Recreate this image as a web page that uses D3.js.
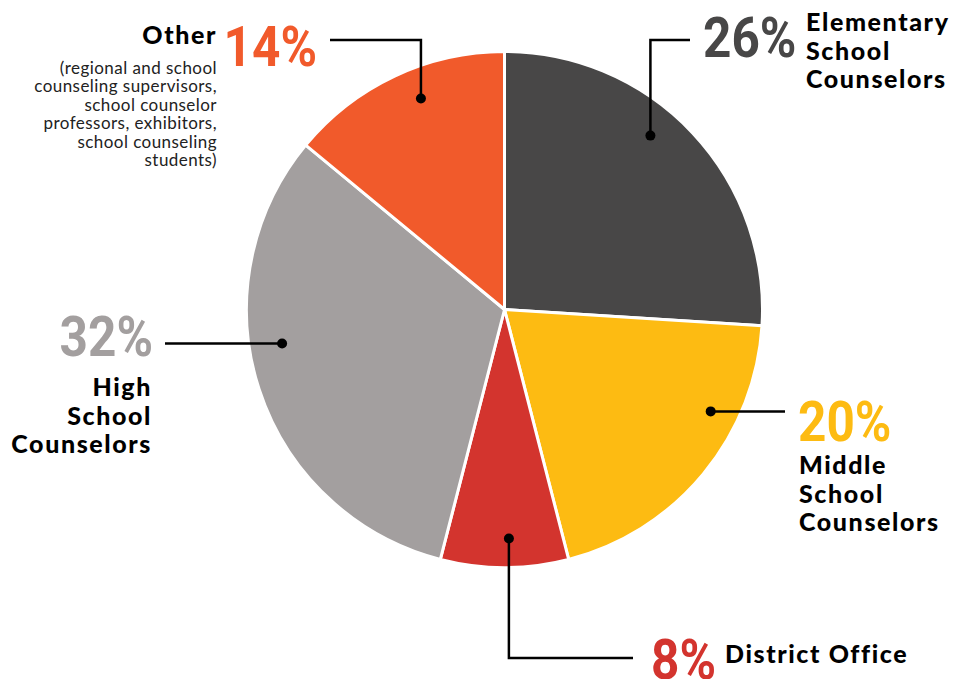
<!DOCTYPE html>
<html><head><meta charset="utf-8">
<script src="https://cdn.jsdelivr.net/npm/d3@7"></script>
<style>
body{margin:0;background:#fff;}
svg{display:block;}
</style></head>
<body><svg id="c" width="956" height="679"></svg>
<script>
const categories = ["Elementary School Counselors","Middle School Counselors","District Office","High School Counselors","Other"];
const values = [26,20,8,32,14];
const colors = ["#484747","#FDBB12","#D3342E","#A39F9F","#F15A2B"];
const pctLabels = ["26%","20%","8%","32%","14%"];
const nameLines = [["Elementary","School","Counselors"],["Middle","School","Counselors"],["District Office"],["High","School","Counselors"],["Other"]];
const otherNote = ["(regional and school","counseling supervisors,","school counselor","professors, exhibitors,","school counseling","students)"];

const W=956,H=679, cx=504.5, cy=309.5, R=258;
const svg=d3.select("#c");
const g=svg.append("g").attr("transform",`translate(${cx},${cy})`);
const pie=d3.pie().sort(null).value(d=>d);
const arcs=pie(values);
const arc=d3.arc().innerRadius(0).outerRadius(R);
g.selectAll("path").data(arcs).join("path")
 .attr("d",arc).attr("fill",(d,i)=>colors[i]).attr("stroke","#fff").attr("stroke-width",3).attr("stroke-linejoin","round");

// layout for leaders/labels (positions only)
const layout=[
 {dotA:40, dotR:227, path:(p)=>[[p[0],p[1]],[p[0],40],[690,40]], pct:{x:703,y:57,anchor:"start"}, name:{x:806,y:31,anchor:"start"}},
 {dotA:116.3, dotR:230, path:(p)=>[[p[0],p[1]],[785,p[1]]], pct:{x:798,y:441,anchor:"start"}, name:{x:799,y:474,anchor:"start"}},
 {dotA:178.9, dotR:229, path:(p)=>[[p[0],p[1]],[p[0],658],[633,658]], pct:{x:651,y:679,anchor:"start"}, name:{x:725,y:663,anchor:"start"}},
 {dotA:261.3, dotR:225, path:(p)=>[[p[0],p[1]],[165,p[1]]], pct:{x:153,y:356,anchor:"end"}, name:{x:152,y:396,anchor:"end"}},
 {dotA:338.4, dotR:227, path:(p)=>[[p[0],p[1]],[p[0],40],[330,40]], pct:{x:317,y:66,anchor:"end"}, name:{x:217,y:44,anchor:"end"}}
];
const line=d3.line();
layout.forEach((L,i)=>{
  const a=L.dotA*Math.PI/180;
  const p=[cx+L.dotR*Math.sin(a), cy-L.dotR*Math.cos(a)];
  svg.append("path").attr("d",line(L.path(p))).attr("fill","none").attr("stroke","#000").attr("stroke-width",2.5);
  svg.append("circle").attr("cx",p[0]).attr("cy",p[1]).attr("r",5).attr("fill","#000");
  // percent
  const sx=0.9;
  svg.append("text").attr("transform",`translate(${L.pct.x},${L.pct.y}) scale(${sx},1)`)
    .attr("text-anchor",L.pct.anchor).attr("font-family","Roboto, sans-serif").attr("font-weight",700)
    .attr("font-size",55).attr("fill",colors[i]).text(pctLabels[i]);
  // names
  const t=svg.append("text").attr("font-family","Lato, sans-serif").attr("font-weight",900)
    .attr("font-size",25).attr("letter-spacing",1.6).attr("fill","#000").attr("text-anchor",L.name.anchor);
  nameLines[i].forEach((s,j)=>t.append("tspan").attr("x",L.name.x).attr("y",L.name.y+j*28.5).text(s));
});
const n=svg.append("text").attr("font-family","Lato, sans-serif").attr("font-weight",400)
  .attr("font-size",17).attr("letter-spacing",0.45).attr("fill","#222").attr("text-anchor","end");
otherNote.forEach((s,j)=>n.append("tspan").attr("x",217).attr("y",74+j*18.4).text(s));
</script></body></html>
